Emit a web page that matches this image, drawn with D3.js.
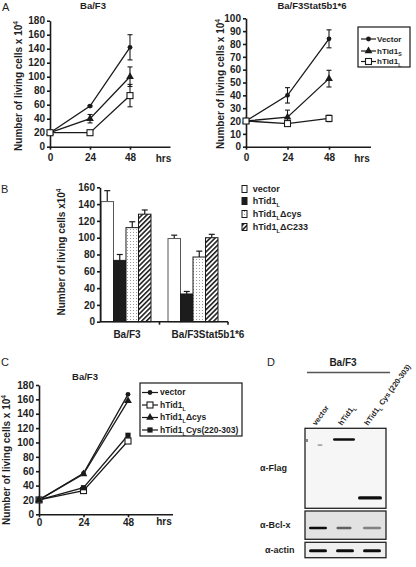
<!DOCTYPE html>
<html><head><meta charset="utf-8">
<script src="https://cdn.jsdelivr.net/npm/d3@7"></script>
<style>
body{margin:0;background:#fff}
svg{display:block}
text{font-family:"Liberation Sans",Arial,sans-serif;fill:#1e1e1e}
</style>
</head><body>
<svg id="c" width="416" height="567"></svg>
<script>
// ---------- DATA ----------
const hours = [0, 24, 48];
// Panel A (left) Ba/F3
const aL_vector = [20, 58, 142], aL_vectorErr = [0, 1, 18];
const aL_tid1S  = [20, 40, 100], aL_tid1SErr  = [0, 6, 14];
const aL_tid1L  = [20, 20, 73],  aL_tid1LErr  = [0, 2, 16];
// Panel A (right) Ba/F3Stat5b1*6
const aR_vector = [20, 40, 84], aR_vectorErr = [0, 6, 7];
const aR_tid1S  = [20, 23, 53], aR_tid1SErr  = [0, 5.5, 6.5];
const aR_tid1L  = [20, 18, 22], aR_tid1LErr  = [0, 1, 2.5];
const aLegend = ["Vector", "hTid1_S", "hTid1_L"];
// Panel B
const bGroups = ["Ba/F3", "Ba/F3Stat5b1*6"];
const bSeries = ["vector", "hTid1_L", "hTid1_LΔcys", "hTid1_LΔC233"];
const bValues = [[143, 73, 112, 128], [99, 33, 77, 100]];
const bErrors = [[13, 7, 7, 5], [4, 3, 7, 4]];
// Panel C
const c_vector = [20, 57, 167];
const c_tid1L  = [20, 33, 102];
const c_dcys   = [20, 56, 158];
const c_cys    = [20, 37, 110];
const cLegend = ["vector", "hTid1_L", "hTid1_LΔcys", "hTid1_LCys(220-303)"];
// Panel D (western blot)
const blotLanes = ["vector", "hTid1_L", "hTid1_L Cys (220-303)"];
const flagIntensity = [0.35, 1, 1];
const flagRowFrac   = [0.21, 0.14, 0.87];
const bclIntensity  = [1, 0.6, 0.45];
const actinIntensity = [1, 1, 1];

// ---------- HELPERS ----------
const svg = d3.select("#c");
const INK = "#1a1a1a";

function rich(t, s, fs) {
  const parts = s.split(/([_^].)/);
  let off = 0;
  parts.forEach(p => {
    if (!p) return;
    let dy = 0, size = null, txt = p;
    if (p[0] === "_") { dy = fs * 0.3 - off; off = fs * 0.3; size = fs * 0.65; txt = p[1]; }
    else if (p[0] === "^") { dy = -fs * 0.4 - off; off = -fs * 0.4; size = fs * 0.65; txt = p[1]; }
    else { dy = -off; off = 0; }
    const ts = t.append("tspan").text(txt);
    if (dy) ts.attr("dy", dy);
    if (size) ts.attr("font-size", size);
  });
  return t;
}

function styleAxis(g) {
  g.attr("font-family", null).attr("font-size", null);
  g.selectAll("path,line").attr("stroke", INK).attr("stroke-width", 1.6);
  g.selectAll("text").attr("font-size", 10).attr("font-weight", "bold").attr("fill", "#1e1e1e");
}

function marker(g, type, cx, cy) {
  if (type === "circle") g.append("circle").attr("cx", cx).attr("cy", cy).attr("r", 2.4).attr("fill", INK);
  else if (type === "tri") g.append("path").attr("d", d3.symbol(d3.symbolTriangle, 26)()).attr("transform", `translate(${cx},${cy})`).attr("fill", INK);
  else if (type === "osq") g.append("rect").attr("x", cx - 3).attr("y", cy - 3).attr("width", 6).attr("height", 6).attr("fill", "#fff").attr("stroke", INK).attr("stroke-width", 1.1);
  else if (type === "fsq") g.append("rect").attr("x", cx - 2.6).attr("y", cy - 2.6).attr("width", 5.2).attr("height", 5.2).attr("fill", INK);
}

function linePanel(o) {
  const g = svg.append("g");
  const x = d3.scaleLinear().domain([0, 72]).range(o.xr);
  const y = d3.scaleLinear().domain([0, o.ymax]).range(o.yr);
  const ya = g.append("g").attr("transform", `translate(${o.xr[0]},0)`)
    .call(d3.axisLeft(y).tickValues(d3.range(0, o.ymax + 1, o.step)).tickSize(3).tickSizeOuter(0).tickPadding(2));
  styleAxis(ya);
  const xa = g.append("g").attr("transform", `translate(0,${o.yr[0]})`)
    .call(d3.axisBottom(x).tickValues(hours).tickSize(3).tickSizeOuter(0).tickPadding(o.xpad));
  styleAxis(xa);
  g.append("text").attr("x", o.hrs[0]).attr("y", o.hrs[1]).attr("text-anchor", "middle")
    .attr("font-size", 10).attr("font-weight", "bold").text("hrs");
  g.append("text").attr("x", o.title[0]).attr("y", o.title[1]).attr("text-anchor", "middle")
    .attr("font-size", 9.5).attr("font-weight", "bold").text(o.titleText);
  const yl = g.append("text").attr("transform", `translate(${o.ylab[0]},${o.ylab[1]}) rotate(-90)`)
    .attr("text-anchor", "middle").attr("dy", "0.35em").attr("font-size", 10).attr("font-weight", "bold");
  rich(yl, o.ylabText, 10);
  const line = d3.line().x((d, i) => x(hours[i])).y(d => y(d));
  o.series.forEach(s => {
    g.append("path").datum(s.v).attr("d", line).attr("fill", "none").attr("stroke", INK).attr("stroke-width", 1.3);
  });
  o.series.forEach(s => {
    if (!s.e) return;
    s.v.forEach((v, i) => {
      const e = s.e[i]; if (!e) return;
      const cx = x(hours[i]);
      g.append("line").attr("x1", cx).attr("x2", cx).attr("y1", y(v - e)).attr("y2", y(v + e)).attr("stroke", INK).attr("stroke-width", 1.1);
      [v - e, v + e].forEach(b => g.append("line").attr("x1", cx - 2.5).attr("x2", cx + 2.5).attr("y1", y(b)).attr("y2", y(b)).attr("stroke", INK).attr("stroke-width", 1.1));
    });
  });
  o.series.forEach(s => s.v.forEach((v, i) => marker(g, s.m, x(hours[i]), y(v))));
  // legend
  if (o.legend) {
    const L = o.legend;
    g.append("rect").attr("x", L.box[0]).attr("y", L.box[1]).attr("width", L.box[2]).attr("height", L.box[3])
      .attr("fill", "#fff").attr("stroke", INK).attr("stroke-width", 1.2);
    L.names.forEach((n, i) => {
      const yy = L.ys[i];
      g.append("line").attr("x1", L.lx[0]).attr("x2", L.lx[1]).attr("y1", yy).attr("y2", yy).attr("stroke", INK).attr("stroke-width", 1.2);
      marker(g, o.series[i].m, (L.lx[0] + L.lx[1]) / 2, yy);
      const t = g.append("text").attr("x", L.tx).attr("y", yy).attr("dy", "0.35em")
        .attr("font-size", L.fs).attr("font-weight", "bold");
      rich(t, n, L.fs);
    });
  }
}

// panel letters
[["A", 2, 11], ["B", 1, 193], ["C", 1, 366], ["D", 267, 366]].forEach(([t, x, y]) =>
  svg.append("text").attr("x", x).attr("y", y).attr("font-size", 11).text(t));

// ---------- PANEL A ----------
linePanel({
  xr: [50, 170], yr: [146.7, 20.7], ymax: 180, step: 20, xpad: 4,
  hrs: [163.5, 162], title: [93, 9], titleText: "Ba/F3",
  ylab: [18, 86], ylabText: "Number of living cells x 10^4",
  series: [
    { v: aL_vector, e: aL_vectorErr, m: "circle" },
    { v: aL_tid1S, e: aL_tid1SErr, m: "tri" },
    { v: aL_tid1L, e: aL_tid1LErr, m: "osq" }
  ]
});
linePanel({
  xr: [246, 370.5], yr: [146.7, 18.3], ymax: 100, step: 10, xpad: 4,
  hrs: [362, 162], title: [312, 9], titleText: "Ba/F3Stat5b1*6",
  ylab: [220.5, 84], ylabText: "Number of living cells x 10^4",
  series: [
    { v: aR_vector, e: aR_vectorErr, m: "circle" },
    { v: aR_tid1S, e: aR_tid1SErr, m: "tri" },
    { v: aR_tid1L, e: aR_tid1LErr, m: "osq" }
  ],
  legend: { box: [358, 27, 52, 40], names: aLegend, ys: [39, 51, 61.5], lx: [361, 376], tx: 377, fs: 8 }
});

// ---------- PANEL B ----------
(function () {
  const g = svg.append("g");
  const defs = svg.append("defs");
  const dots = defs.append("pattern").attr("id", "dots").attr("patternUnits", "userSpaceOnUse").attr("width", 3).attr("height", 3);
  dots.append("rect").attr("width", 3).attr("height", 3).attr("fill", "#fff");
  dots.append("rect").attr("x", 1).attr("y", 1).attr("width", 1).attr("height", 1).attr("fill", "#9a9a9a");
  const hatch = defs.append("pattern").attr("id", "hatch").attr("patternUnits", "userSpaceOnUse")
    .attr("width", 3.4).attr("height", 3.4).attr("patternTransform", "rotate(45)");
  hatch.append("rect").attr("width", 3.4).attr("height", 3.4).attr("fill", "#fff");
  hatch.append("line").attr("x1", 0.8).attr("x2", 0.8).attr("y1", 0).attr("y2", 3.4).attr("stroke", "#111").attr("stroke-width", 1.5);
  const fills = ["#fff", "#1c1c1c", "url(#dots)", "url(#hatch)"];

  const y = d3.scaleLinear().domain([0, 160]).range([321.7, 187.3]);
  const x0 = d3.scaleBand().domain(bGroups).range([101, 218]).paddingInner(0.254);
  const x1 = d3.scaleBand().domain(bSeries).range([0, x0.bandwidth()]);

  bGroups.forEach((grp, gi) => {
    bSeries.forEach((s, si) => {
      const v = bValues[gi][si], e = bErrors[gi][si];
      const bx = x0(grp) + x1(s), bw = x1.bandwidth();
      const cx = bx + bw / 2;
      g.append("line").attr("x1", cx).attr("x2", cx).attr("y1", y(v)).attr("y2", y(v + e)).attr("stroke", INK).attr("stroke-width", 1.2);
      g.append("line").attr("x1", cx - 3).attr("x2", cx + 3).attr("y1", y(v + e)).attr("y2", y(v + e)).attr("stroke", INK).attr("stroke-width", 1.2);
      g.append("rect").attr("x", bx).attr("y", y(v)).attr("width", bw).attr("height", y(0) - y(v))
        .attr("fill", fills[si]).attr("stroke", si === 0 ? "#555" : INK).attr("stroke-width", 1);
    });
  });
  const ya = g.append("g").attr("transform", "translate(100,0)")
    .call(d3.axisLeft(y).tickValues(d3.range(0, 161, 20)).tickSize(3).tickSizeOuter(0).tickPadding(2));
  styleAxis(ya);
  // x axis with group-boundary ticks
  const yb = y(0);
  g.append("line").attr("x1", 100).attr("x2", 228).attr("y1", yb).attr("y2", yb).attr("stroke", INK).attr("stroke-width", 1.6);
  const mid = (x0(bGroups[0]) + x0.bandwidth() + x0(bGroups[1])) / 2;
  [mid, 228].forEach(tx => g.append("line").attr("x1", tx).attr("x2", tx).attr("y1", yb).attr("y2", yb + 3).attr("stroke", INK).attr("stroke-width", 1.6));
  const labOff = [1, 15];
  bGroups.forEach((grp, gi) => g.append("text").attr("x", x0(grp) + x0.bandwidth() / 2 + labOff[gi]).attr("y", 338)
    .attr("text-anchor", "middle").attr("font-size", 10).attr("font-weight", "bold").text(grp));
  const yl = g.append("text").attr("transform", "translate(61,252) rotate(-90)").attr("text-anchor", "middle")
    .attr("dy", "0.35em").attr("font-size", 10).attr("font-weight", "bold");
  rich(yl, "Number of living cells x10^4", 10);
  // legend
  const ly = [189, 201, 214, 227];
  bSeries.forEach((s, si) => {
    g.append("rect").attr("x", 242).attr("y", ly[si] - 3.5).attr("width", 5).attr("height", 7)
      .attr("fill", fills[si]).attr("stroke", INK).attr("stroke-width", 1);
    const t = g.append("text").attr("x", 252.7).attr("y", ly[si]).attr("dy", "0.35em").attr("font-size", 9).attr("font-weight", "bold");
    rich(t, s, 9);
  });
})();

// ---------- PANEL C ----------
linePanel({
  xr: [39, 172.5], yr: [514.3, 385], ymax: 180, step: 20, xpad: 2,
  hrs: [164, 525], title: [85, 380], titleText: "Ba/F3",
  ylab: [6, 460], ylabText: "Number of living cells x 10^4",
  series: [
    { v: c_vector, m: "circle" },
    { v: c_tid1L, m: "osq" },
    { v: c_dcys, m: "tri" },
    { v: c_cys, m: "fsq" }
  ],
  legend: { box: [140, 383, 102, 53], names: cLegend, ys: [392.5, 405, 417.5, 430], lx: [142, 158], tx: 160, fs: 8.5 }
});

// ---------- PANEL D ----------
(function () {
  const g = svg.append("g");
  const defs = svg.select("defs");
  defs.append("filter").attr("id", "blur").attr("x", "-20%").attr("y", "-100%").attr("width", "140%").attr("height", "300%")
    .append("feGaussianBlur").attr("stdDeviation", 0.7);
  const lx = d3.scalePoint().domain(blotLanes).range([318, 370]);
  g.append("text").attr("x", 343).attr("y", 366).attr("text-anchor", "middle").attr("font-size", 10).attr("font-weight", "bold").text("Ba/F3");
  g.append("line").attr("x1", 307).attr("x2", 390).attr("y1", 372.5).attr("y2", 372.5).attr("stroke", "#555").attr("stroke-width", 1.5);
  blotLanes.forEach(l => {
    const t = g.append("text").attr("transform", `translate(${lx(l) - 2},426) rotate(-54)`)
      .attr("font-size", 7.5).attr("font-weight", "bold");
    rich(t, l, 7.5);
  });
  const boxes = [
    { y: 428.3, h: 80, fill: "#f6f6f6", label: "α-Flag", lxp: 260 },
    { y: 511, h: 28.3, fill: "#e2e2e2", label: "α-Bcl-x", lxp: 260 },
    { y: 542.3, h: 15.4, fill: "#efefef", label: "α-actin", lxp: 265 }
  ];
  boxes.forEach(b => {
    g.append("rect").attr("x", 305).attr("y", b.y).attr("width", 81).attr("height", b.h)
      .attr("fill", b.fill).attr("stroke", "#222").attr("stroke-width", 1.3);
    g.append("text").attr("x", b.lxp).attr("y", b.y + b.h / 2).attr("dy", "0.35em")
      .attr("font-size", 9).attr("font-weight", "bold").text(b.label);
  });
  function band(cx, cy, w, h, k) {
    g.append("rect").attr("x", cx - w / 2).attr("y", cy - h / 2).attr("width", w).attr("height", h).attr("rx", h / 2)
      .attr("fill", d3.interpolateGray ? "#111" : "#111").attr("opacity", k).attr("filter", "url(#blur)");
  }
  const bw = [5, 22, 24];
  blotLanes.forEach((l, i) => band(lx(l) + [2, 0, 0][i], 428.3 + 80 * flagRowFrac[i], bw[i], i === 0 ? 1.6 : (i === 2 ? 3.2 : 2.6), flagIntensity[i]));
  g.append("rect").attr("x", 306).attr("y", 439).attr("width", 2).attr("height", 3).attr("fill", "#555").attr("opacity", 0.7);
  blotLanes.forEach((l, i) => band(lx(l) + [0, 0, 2][i], 528, [18, 15, 18][i], 2.4, bclIntensity[i]));
  blotLanes.forEach((l, i) => band(lx(l) + [0, 1, 2][i], 550.7, 18, 3, actinIntensity[i]));
})();
</script>
</body></html>
